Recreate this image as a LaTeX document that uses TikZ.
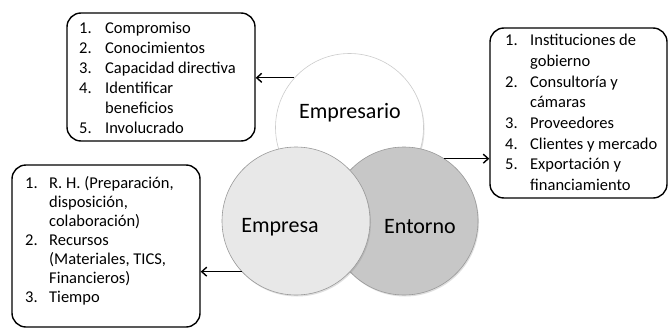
\documentclass[tikz,border=0pt]{standalone}
\usepackage{fontspec}
\setmainfont{Carlito}
\usetikzlibrary{arrows.meta,shadows}
\begin{document}
\begin{tikzpicture}[x=1pt,y=-1pt,
  listbox/.style={draw=black,line width=1.4pt,rounded corners=14pt,inner sep=0pt},
  listtext/.style={anchor=north west,inner sep=0pt,align=left},
  ring/.style={circle,minimum size=148pt,inner sep=0pt,draw=black!40,line width=0.6pt,
    drop shadow={opacity=0.25,shadow xshift=1pt,shadow yshift=-1.5pt}},
  ringlabel/.style={inner sep=0pt,font=\fontsize{22}{26}\selectfont},
  arr/.style={line width=1.4pt,-{Straight Barb[length=5pt,width=9pt,line width=1.4pt]}}]
\useasboundingbox[fill=white] (0,0) rectangle (668,329);
% circles
\node[ring,fill=white,draw=black!20] (empresario) at (349.5,127.5) {};
\node[ring,fill=black!22] (entorno) at (404,221) {};
\node[ring,fill=black!9] (empresa) at (296,221) {};
\node[ringlabel] (lempresario) at (350,113) {Empresario};
\node[ringlabel] (lempresa) at (280,227) {Empresa};
\node[ringlabel] (lentorno) at (420,227) {Entorno};
% boxes
\node[listbox,minimum width=188pt,minimum height=128pt] (boxA) at (161,77) {};
\node[listtext] (tA) at (79,19) {\fontsize{16.5}{20}\selectfont
  \begin{tabular}{@{}p{26pt}@{}l@{}}
  1. & Compromiso\\
  2. & Conocimientos\\
  3. & Capacidad directiva\\
  4. & Identificar\\
     & beneficios\\
  5. & Involucrado
  \end{tabular}};
\node[listbox,minimum width=177pt,minimum height=170pt] (boxB) at (578.5,113) {};
\node[listtext] (tB) at (505,31) {\fontsize{16.5}{20.7}\selectfont
  \begin{tabular}{@{}p{25pt}@{}l@{}}
  1. & Instituciones de\\
     & gobierno\\
  2. & Consultoría y\\
     & cámaras\\
  3. & Proveedores\\
  4. & Clientes y mercado\\
  5. & Exportación y\\
     & financiamiento
  \end{tabular}};
\node[listbox,minimum width=188pt,minimum height=162pt] (boxC) at (106,246) {};
\node[listtext] (tC) at (25,174.5) {\fontsize{16.5}{19}\selectfont
  \begin{tabular}{@{}p{24pt}@{}l@{}}
  1. & R. H. (Preparación,\\
     & disposición,\\
     & colaboración)\\
  2. & Recursos\\
     & (Materiales, TICS,\\
     & Financieros)\\
  3. & Tiempo
  \end{tabular}};
% connectors
\draw[arr] (empresario.138.4) -- (boxA.east |- empresario.138.4);
\draw[arr] (entorno.57.2) -- (boxB.west |- entorno.57.2);
\draw[arr] (empresa.223.6) -- (boxC.east |- empresa.223.6);
\end{tikzpicture}
\end{document}
